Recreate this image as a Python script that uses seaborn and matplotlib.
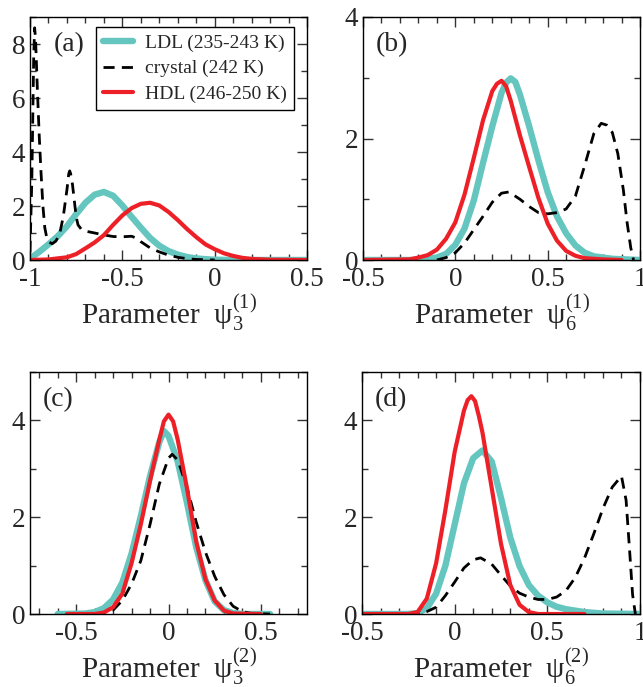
import numpy as np
import pandas as pd
import matplotlib
matplotlib.use("Agg")
import matplotlib.pyplot as plt
from matplotlib.ticker import MultipleLocator
import seaborn as sns

sns.set_style("ticks")
plt.rcParams['font.family'] = ['Liberation Serif', 'DejaVu Serif']
plt.rcParams['mathtext.fontset'] = 'custom'
plt.rcParams['mathtext.rm'] = 'Liberation Serif'
plt.rcParams['mathtext.it'] = 'Liberation Serif:italic'
plt.rcParams['mathtext.bf'] = 'Liberation Serif:bold'
plt.rcParams['axes.unicode_minus'] = False

# ---------------- data ----------------
# panel (a): psi_3^(1)
a_ldl_x = [-1.0, -0.95, -0.9, -0.85, -0.8, -0.75, -0.7, -0.65, -0.6, -0.55, -0.5, -0.45, -0.4,
           -0.35, -0.3, -0.25, -0.2, -0.15, -0.1, -0.05, 0.0, 0.1, 0.2, 0.5]
a_ldl_y = [0.05, 0.3, 0.58, 0.88, 1.25, 1.7, 2.12, 2.42, 2.52, 2.38, 2.02, 1.6, 1.2,
           0.82, 0.53, 0.33, 0.2, 0.11, 0.06, 0.03, 0.01, 0.0, 0.0, 0.0]
a_hdl_x = [-1.0, -0.9, -0.8, -0.75, -0.7, -0.65, -0.6, -0.55, -0.5, -0.45, -0.4, -0.35, -0.3,
           -0.25, -0.2, -0.15, -0.1, -0.05, 0.0, 0.05, 0.1, 0.15, 0.2, 0.3, 0.5]
a_hdl_y = [0.0, 0.02, 0.1, 0.22, 0.43, 0.65, 0.92, 1.3, 1.65, 1.92, 2.08, 2.12, 2.02,
           1.78, 1.48, 1.15, 0.85, 0.58, 0.4, 0.25, 0.15, 0.08, 0.04, 0.01, 0.0]
a_cry_x = [-1.0, -0.99, -0.98, -0.975, -0.97, -0.96, -0.95, -0.94, -0.93, -0.92, -0.91, -0.9,
           -0.88, -0.86, -0.84, -0.82, -0.8, -0.79, -0.785, -0.78, -0.77, -0.76, -0.75, -0.74,
           -0.72, -0.7, -0.65, -0.6, -0.55, -0.5, -0.45, -0.42, -0.4, -0.35, -0.3, -0.25,
           -0.2, -0.15, -0.1, 0.0]
a_cry_y = [0.3, 3.0, 7.5, 8.6, 8.2, 6.3, 4.6, 3.2, 2.0, 1.2, 0.85, 0.68,
           0.6, 0.7, 0.95, 1.6, 2.6, 3.2, 3.3, 3.2, 2.8, 2.2, 1.6, 1.3,
           1.12, 1.07, 1.0, 0.93, 0.87, 0.86, 0.88, 0.8, 0.68, 0.45, 0.3, 0.18,
           0.1, 0.05, 0.02, 0.0]

# panel (b): psi_6^(1)
b_ldl_x = [-0.5, -0.2, -0.1, -0.05, 0.0, 0.05, 0.1, 0.15, 0.2, 0.25, 0.275, 0.3, 0.325, 0.35,
           0.4, 0.45, 0.5, 0.55, 0.6, 0.65, 0.7, 0.75, 0.85, 1.0]
b_ldl_y = [0.0, 0.0, 0.04, 0.1, 0.25, 0.52, 0.98, 1.6, 2.2, 2.75, 2.92, 2.99, 2.93, 2.72,
           2.2, 1.64, 1.12, 0.72, 0.44, 0.24, 0.12, 0.06, 0.02, 0.0]
b_hdl_x = [-0.5, -0.25, -0.2, -0.15, -0.1, -0.05, 0.0, 0.05, 0.1, 0.15, 0.2, 0.225, 0.25,
           0.275, 0.3, 0.35, 0.4, 0.45, 0.5, 0.55, 0.6, 0.65, 0.7, 0.8, 0.9]
b_hdl_y = [0.0, 0.01, 0.04, 0.08, 0.17, 0.35, 0.62, 1.08, 1.68, 2.3, 2.78, 2.9, 2.95,
           2.86, 2.62, 2.05, 1.53, 1.02, 0.6, 0.32, 0.15, 0.07, 0.03, 0.01, 0.0]
b_cry_x = [-0.1, -0.05, 0.0, 0.05, 0.1, 0.15, 0.2, 0.25, 0.29, 0.35, 0.4, 0.45, 0.5, 0.55,
           0.6, 0.65, 0.7, 0.75, 0.79, 0.82, 0.85, 0.88, 0.91, 0.93, 0.95, 0.965]
b_cry_y = [0.0, 0.04, 0.12, 0.28, 0.5, 0.72, 0.95, 1.1, 1.12, 1.0, 0.88, 0.78, 0.76, 0.78,
           0.84, 1.05, 1.55, 2.08, 2.25, 2.22, 2.1, 1.75, 1.15, 0.62, 0.2, 0.0]

# panel (c): psi_3^(2)
c_ldl_x = [-0.6, -0.45, -0.4, -0.35, -0.3, -0.25, -0.2, -0.15, -0.1, -0.05, -0.025, 0.0, 0.05,
           0.1, 0.15, 0.2, 0.25, 0.3, 0.35, 0.4, 0.55]
c_ldl_y = [0.0, 0.01, 0.04, 0.12, 0.3, 0.65, 1.25, 2.02, 2.85, 3.55, 3.78, 3.68, 3.15,
           2.3, 1.38, 0.7, 0.26, 0.08, 0.02, 0.0, 0.0]
c_hdl_x = [-0.55, -0.4, -0.35, -0.3, -0.25, -0.2, -0.15, -0.1, -0.05, -0.025, 0.0, 0.025, 0.05,
           0.1, 0.15, 0.2, 0.25, 0.3, 0.35, 0.5]
c_hdl_y = [0.0, 0.0, 0.03, 0.14, 0.42, 1.05, 1.85, 2.75, 3.6, 3.98, 4.12, 3.98, 3.6,
           2.6, 1.5, 0.72, 0.28, 0.07, 0.01, 0.0]
c_cry_x = [-0.4, -0.35, -0.3, -0.25, -0.2, -0.15, -0.1, -0.05, 0.0, 0.02, 0.05, 0.1, 0.15,
           0.2, 0.25, 0.3, 0.35, 0.4, 0.45, 0.55]
c_cry_y = [0.0, 0.02, 0.08, 0.28, 0.62, 1.1, 1.85, 2.68, 3.22, 3.3, 3.18, 2.62, 1.9,
           1.28, 0.78, 0.4, 0.16, 0.05, 0.01, 0.0]

# panel (d): psi_6^(2)
d_ldl_x = [-0.5, -0.25, -0.2, -0.15, -0.1, -0.05, 0.0, 0.05, 0.1, 0.15, 0.2, 0.25, 0.3, 0.35,
           0.4, 0.45, 0.5, 0.55, 0.6, 0.7, 0.8, 1.0]
d_ldl_y = [0.0, 0.0, 0.02, 0.12, 0.42, 1.0, 1.85, 2.7, 3.22, 3.38, 3.15, 2.4, 1.58, 0.99,
           0.6, 0.38, 0.24, 0.15, 0.1, 0.04, 0.01, 0.0]
d_hdl_x = [-0.5, -0.25, -0.2, -0.15, -0.1, -0.05, 0.0, 0.05, 0.07, 0.09, 0.11, 0.13, 0.15,
           0.2, 0.25, 0.3, 0.35, 0.4, 0.45, 0.7]
d_hdl_y = [0.0, 0.0, 0.04, 0.32, 1.05, 2.15, 3.35, 4.2, 4.42, 4.5, 4.4, 4.1, 3.75,
           2.6, 1.45, 0.6, 0.19, 0.04, 0.0, 0.0]
d_cry_x = [-0.25, -0.2, -0.15, -0.1, -0.05, 0.0, 0.05, 0.1, 0.14, 0.2, 0.25, 0.3, 0.35, 0.4,
           0.45, 0.5, 0.55, 0.6, 0.65, 0.7, 0.75, 0.8, 0.85, 0.9, 0.925, 0.945, 0.96, 0.975]
d_cry_y = [0.0, 0.01, 0.05, 0.14, 0.38, 0.66, 0.95, 1.12, 1.16, 1.03, 0.8, 0.58, 0.43, 0.35,
           0.3, 0.3, 0.35, 0.48, 0.75, 1.15, 1.65, 2.18, 2.62, 2.85, 2.35, 1.25, 0.4, 0.0]

labels = ["LDL (235-243 K)", "crystal (242 K)", "HDL (246-250 K)"]
xlabels = [r"Parameter  $\mathrm{\psi}_3^{(1)}$", r"Parameter  $\mathrm{\psi}_6^{(1)}$",
           r"Parameter  $\mathrm{\psi}_3^{(2)}$", r"Parameter  $\mathrm{\psi}_6^{(2)}$"]
panel_tags = ["(a)", "(b)", "(c)", "(d)"]

TEAL = "#64C6BF"
RED = "#EE2027"

fig = plt.figure(figsize=(6.43, 6.87), dpi=100)
W, H = 643.0, 687.0
rects = [(30, 17, 277, 243), (363, 17, 277, 243), (30, 372, 277, 242), (362, 372, 278, 242)]
axes = [fig.add_axes([l / W, 1 - (t + h) / H, w / W, h / H]) for (l, t, w, h) in rects]

panels = [
    (a_ldl_x, a_ldl_y, a_cry_x, a_cry_y, a_hdl_x, a_hdl_y, (-1, 0.5), (0, 9), [-1, -0.5, 0, 0.5], [0, 2, 4, 6, 8], ["-1", "-0.5", "0", "0.5"]),
    (b_ldl_x, b_ldl_y, b_cry_x, b_cry_y, b_hdl_x, b_hdl_y, (-0.5, 1), (0, 4), [-0.5, 0, 0.5, 1], [0, 2, 4], ["-0.5", "0", "0.5", "1"]),
    (c_ldl_x, c_ldl_y, c_cry_x, c_cry_y, c_hdl_x, c_hdl_y, (-0.75, 0.75), (0, 5), [-0.5, 0, 0.5], [0, 2, 4], ["-0.5", "0", "0.5"]),
    (d_ldl_x, d_ldl_y, d_cry_x, d_cry_y, d_hdl_x, d_hdl_y, (-0.5, 1), (0, 5), [-0.5, 0, 0.5, 1], [0, 2, 4], ["-0.5", "0", "0.5", "1"]),
]

tag_x = [0.085, 0.045, 0.047, 0.047]

for i, (ax, p) in enumerate(zip(axes, panels)):
    lx, ly, cx, cy, hx, hy, xlim, ylim, xt, yt, xtl = p
    sns.lineplot(x=lx, y=ly, ax=ax, color=TEAL, lw=4.6, label=labels[0], sort=False,
                 solid_joinstyle="round", solid_capstyle="round")
    sns.lineplot(x=cx, y=cy, ax=ax, color="black", lw=2.0, linestyle=(0, (4.0, 2.6)),
                 label=labels[1], sort=False, dash_joinstyle="round")
    sns.lineplot(x=hx, y=hy, ax=ax, color=RED, lw=3.0, label=labels[2], sort=False,
                 solid_joinstyle="round", solid_capstyle="round")
    ax.set_xlim(*xlim)
    ax.set_ylim(*ylim)
    ax.set_xticks(xt)
    ax.set_xticklabels(xtl)
    ax.set_yticks(yt)
    ax.set_yticklabels([str(v) for v in yt])
    ax.xaxis.set_minor_locator(MultipleLocator(0.1))
    ax.yaxis.set_minor_locator(MultipleLocator(1))
    ax.tick_params(which="both", direction="in", top=True, right=True, labelsize=19.5,
                   width=1.0, color="#333333")
    ax.tick_params(axis="x", which="both", pad=5)
    ax.tick_params(axis="y", which="both", pad=3.5)
    ax.tick_params(which="major", length=7)
    ax.tick_params(which="minor", length=4)
    for s in ax.spines.values():
        s.set_linewidth(1.0)
        s.set_color("black")
        s.set_visible(True)
    ax.set_xlabel(xlabels[i], fontsize=21, labelpad=0)
    ax.set_ylabel("")
    ax.text(tag_x[i], 0.885, panel_tags[i], transform=ax.transAxes,
            fontsize=20, ha="left", va="center")
    if i == 0:
        leg = ax.legend(loc="upper right", bbox_to_anchor=(0.952, 0.957), fontsize=14,
                        frameon=True, fancybox=False, edgecolor="black", framealpha=1,
                        handlelength=1.55, handletextpad=0.6, labelspacing=0.4,
                        borderpad=0.35, borderaxespad=0.0)
        leg.get_frame().set_linewidth(1.0)
    else:
        lg = ax.get_legend()
        if lg is not None:
            lg.remove()

fig.savefig("out.png", dpi=100)
